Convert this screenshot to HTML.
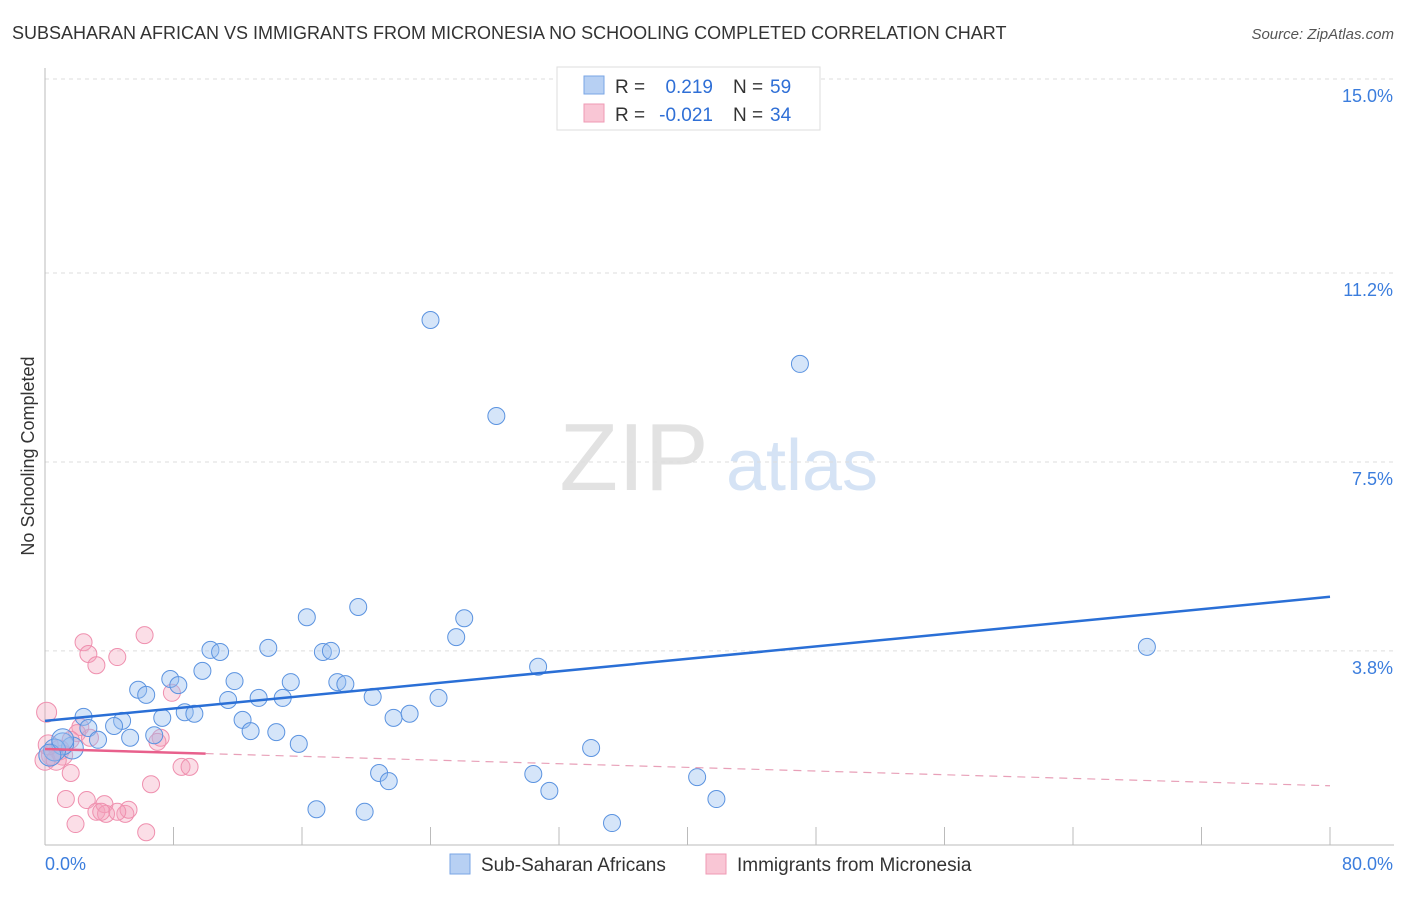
<!DOCTYPE html>
<html><head><meta charset="utf-8"><style>
body{margin:0;background:#fff;font-family:"Liberation Sans",sans-serif;}
svg text{font-family:"Liberation Sans",sans-serif;}
</style></head><body>
<svg id="chart" width="1406" height="892">
<text x="12" y="39" font-size="18" fill="#333">SUBSAHARAN AFRICAN VS IMMIGRANTS FROM MICRONESIA NO SCHOOLING COMPLETED CORRELATION CHART</text>
<text x="1394" y="39" font-size="15" fill="#555" font-style="italic" text-anchor="end">Source: ZipAtlas.com</text>
<text x="34" y="456" font-size="18" fill="#333" text-anchor="middle" transform="rotate(-90 34 456)">No Schooling Completed</text>
<g>
<text x="634" y="490" font-size="96" fill="#e2e2e2" text-anchor="middle" font-family="Liberation Serif, serif">ZIP</text>
<text x="802" y="490" font-size="72" fill="#d5e3f5" text-anchor="middle">atlas</text>
</g>
<g id="grid"></g><g id="axes"></g><g id="marks"></g>
<g>
<rect x="557" y="67" width="263" height="63" fill="#fff" stroke="#ddd"/>
<rect x="584" y="76" width="20" height="18" fill="#b7d0f3" stroke="#7aa6e6"/>
<rect x="584" y="104" width="20" height="18" fill="#f9c6d5" stroke="#ef9ab4"/>
<text x="615" y="93" font-size="19" fill="#333">R =</text><text x="713" y="93" font-size="19" fill="#2f6fd6" text-anchor="end">0.219</text>
<text x="733" y="93" font-size="19" fill="#333">N =</text><text x="770" y="93" font-size="19" fill="#2f6fd6">59</text>
<text x="615" y="121" font-size="19" fill="#333">R =</text><text x="713" y="121" font-size="19" fill="#2f6fd6" text-anchor="end">-0.021</text>
<text x="733" y="121" font-size="19" fill="#333">N =</text><text x="770" y="121" font-size="19" fill="#2f6fd6">34</text>
</g>
<g>
<rect x="450" y="854" width="20" height="20" fill="#b7d0f3" stroke="#7aa6e6"/>
<text x="481" y="871" font-size="19" fill="#333">Sub-Saharan Africans</text>
<rect x="706" y="854" width="20" height="20" fill="#f9c6d5" stroke="#ef9ab4"/>
<text x="737" y="871" font-size="19" fill="#333">Immigrants from Micronesia</text>
</g>
</svg>
<script>
const xTicks=[0,8,16,24,32,40,48,56,64,72,80];
const yTicks=[3.8,7.5,11.2,15.0];
const yTickLabels=["3.8%","7.5%","11.2%","15.0%"];
const blueX=[24.0,47.0,28.1,68.6,19.5,16.3,26.1,25.6,30.7,10.3,10.9,13.9,17.3,17.8,9.8,7.8,8.3,5.8,6.3,11.8,15.3,18.2,18.7,11.4,13.3,14.8,20.4,24.5,8.7,9.3,7.3,12.3,21.7,22.7,4.8,4.3,2.4,2.7,14.4,12.8,5.3,6.8,3.3,15.8,34.0,1.7,1.1,0.6,0.3,20.8,21.4,30.4,40.6,31.4,41.8,16.9,19.9,35.3,1.1];
const blueY=[10.28,9.42,8.40,3.88,4.66,4.46,4.44,4.07,3.49,3.82,3.78,3.86,3.78,3.80,3.41,3.25,3.13,3.04,2.94,3.21,3.19,3.19,3.15,2.84,2.88,2.88,2.90,2.88,2.60,2.57,2.49,2.45,2.49,2.57,2.43,2.33,2.51,2.29,2.21,2.23,2.10,2.15,2.06,1.98,1.90,1.90,1.98,1.86,1.76,1.41,1.25,1.39,1.33,1.06,0.90,0.70,0.65,0.43,2.06];
const pinkX=[0.1,2.4,2.7,3.2,4.5,6.2,7.9,2.2,2.0,1.6,2.8,7.2,7.0,0.9,0.4,0,1.1,1.6,1.3,1.9,2.6,3.2,3.7,3.8,3.5,5.0,5.2,4.5,6.3,6.6,8.5,9.0,0.7,0.2];
const pinkY=[2.60,3.97,3.74,3.52,3.68,4.11,2.98,2.31,2.19,2.06,2.10,2.10,2.02,1.86,1.76,1.66,1.76,1.41,0.90,0.41,0.88,0.65,0.80,0.61,0.65,0.61,0.69,0.65,0.25,1.19,1.53,1.53,1.66,1.96];
const blueTrend=[2.43,4.86];
const pinkTrend=[1.88,1.16];
const NS="http://www.w3.org/2000/svg";
const X=v=>45+v*16.0625, Y=v=>845-v*51.07;
function mk(t,a,p){const e=document.createElementNS(NS,t);for(const k in a)e.setAttribute(k,a[k]);p.appendChild(e);return e;}
const grid=document.getElementById('grid'),axes=document.getElementById('axes'),marks=document.getElementById('marks');
yTicks.forEach((v,i)=>{
 const l=mk('line',{x1:45,x2:1394,y1:Y(v),y2:Y(v),stroke:'#ddd','stroke-dasharray':'4,4'},grid);
 
 
 const t=mk('text',{x:1393,y:Y(v)+23,'font-size':18,fill:'#3b7ddd','text-anchor':'end'},axes);
 t.textContent=yTickLabels[i];
 
 
});
const ya=mk('line',{x1:45,x2:45,y1:68,y2:845,stroke:'#bbb'},axes);


const xa=mk('line',{x1:45,x2:1394,y1:845,y2:845,stroke:'#bbb'},axes);


xTicks.forEach(v=>{
 const t=mk('line',{x1:X(v),x2:X(v),y1:827,y2:845,stroke:'#bbb'},axes);
 
 
});
const xl0=mk('text',{x:45,y:870,'font-size':18,fill:'#3b7ddd'},axes);xl0.textContent=xTicks[0].toFixed(1)+'%';


const xl1=mk('text',{x:1393,y:870,'font-size':18,fill:'#3b7ddd','text-anchor':'end'},axes);xl1.textContent=xTicks[xTicks.length-1].toFixed(1)+'%';


pinkX.forEach((x,i)=>{
 const r=(x<1.2)?10:8.5;
 const c=mk('circle',{cx:X(x),cy:Y(pinkY[i]),r:r,fill:'rgba(244,160,185,0.35)',stroke:'#ef8fae','stroke-width':1},marks);
 
 
});
blueX.forEach((x,i)=>{
 const r=(x<2)?11:8.5;
 const c=mk('circle',{cx:X(x),cy:Y(blueY[i]),r:r,fill:'rgba(150,190,240,0.4)',stroke:'#5b93e0','stroke-width':1},marks);
 
 
});
const bl=mk('line',{x1:X(0),y1:Y(blueTrend[0]),x2:X(80),y2:Y(blueTrend[1]),stroke:'#2a6fd6','stroke-width':2.5},marks);


const pv=v=>pinkTrend[0]+(pinkTrend[1]-pinkTrend[0])*v/80;
const pl=mk('line',{x1:X(0),y1:Y(pinkTrend[0]),x2:X(10),y2:Y(pv(10)),stroke:'#e8608c','stroke-width':2.5},marks);


const pd=mk('line',{x1:X(10),y1:Y(pv(10)),x2:X(80),y2:Y(pinkTrend[1]),stroke:'#e8a0b8','stroke-width':1.2,'stroke-dasharray':'8,6'},marks);


</script>
</body></html>
